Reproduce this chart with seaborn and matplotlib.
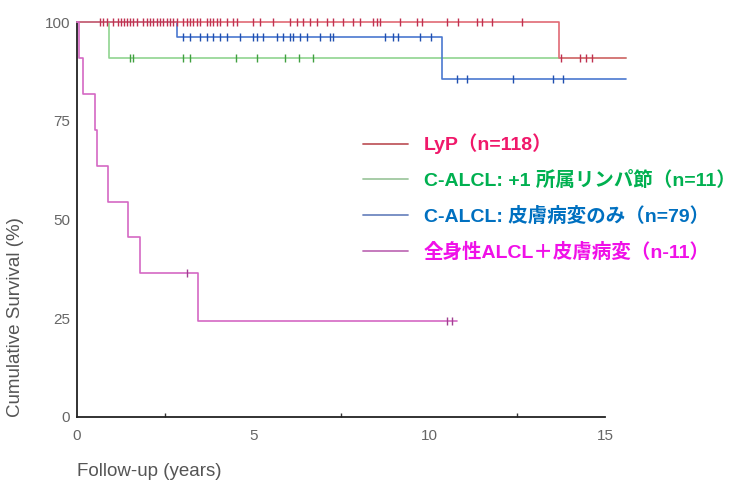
import numpy as np
import matplotlib
matplotlib.use("Agg")
import matplotlib.pyplot as plt
from matplotlib.lines import Line2D
import seaborn as sns

# step curves: event times (years) and survival (%) after each event
lyp_t = [0, 13.68, 15.6]
lyp_s = [100, 90.9, 90.9]
node_t = [0, 0.91, 15.6]
node_s = [100, 90.9, 90.9]
skin_t = [0, 2.84, 10.37, 15.6]
skin_s = [100, 96.2, 85.5, 85.5]
sys_t = [0, 0.05, 0.17, 0.52, 0.57, 0.88, 1.45, 1.79, 3.44, 10.8]
sys_s = [100, 90.9, 81.8, 72.7, 63.6, 54.5, 45.5, 36.4, 24.2, 24.2]

# censored observations (years)
lyp_cens = [0.65, 0.74, 0.85, 1.02, 1.16, 1.25, 1.34, 1.42, 1.51, 1.59, 1.70, 1.88,
            1.99, 2.07, 2.16, 2.27, 2.36, 2.44, 2.56, 2.64, 2.73, 2.84, 3.01, 3.13,
            3.21, 3.30, 3.41, 3.49, 3.69, 3.78, 3.86, 3.98, 4.06, 4.26, 4.43, 4.55,
            5.0, 5.2, 5.57, 6.05, 6.25, 6.42, 6.62, 6.82, 7.10, 7.27, 7.56, 7.84,
            8.04, 8.41, 8.52, 8.61, 9.18, 9.66, 9.8, 10.51, 10.82, 11.36, 11.51,
            11.79, 12.64, 13.75, 14.29, 14.45, 14.63]
node_cens = [1.5, 1.6, 3.0, 3.2, 4.5, 5.1, 5.9, 6.3, 6.7]
skin_cens = [3.01, 3.21, 3.49, 3.69, 3.86, 4.06, 4.26, 4.63, 5.0, 5.11, 5.28, 5.68,
             5.85, 6.05, 6.14, 6.34, 6.53, 6.9, 7.19, 7.27, 8.75, 8.98, 9.12, 9.74,
             10.06, 10.8, 11.08, 12.39, 13.52, 13.8]
sys_cens = [3.13, 10.51, 10.65]

labels = ["LyP（n=118）", "C-ALCL: +1 所属リンパ節（n=11）",
          "C-ALCL: 皮膚病変のみ（n=79）", "全身性ALCL＋皮膚病変（n-11）"]
line_cols = ["#e06a74", "#90d490", "#4a78d0", "#d468c4"]
mark_cols = ["#c03050", "#40a040", "#2050b0", "#a04090"]
text_cols = ["#f0186a", "#00b050", "#0070c0", "#f010e8"]
legend_cols = ["#c05a60", "#a0c8a0", "#7088c0", "#c070b8"]

sns.set_style("white")
plt.rcParams['font.family'] = ['Liberation Sans', 'Noto Sans CJK JP', 'DejaVu Sans']

fig = plt.figure(figsize=(7.41, 4.84), dpi=100)
ax = fig.add_axes([77 / 741, 67 / 484, (630 - 77) / 741, (417 - 22) / 484])

curves = [(lyp_t, lyp_s, lyp_cens), (node_t, node_s, node_cens),
          (skin_t, skin_s, skin_cens), (sys_t, sys_s, sys_cens)]
order = [1, 2, 0, 3]
for i in order:
    t, s, c = curves[i]
    sns.lineplot(x=t, y=s, ax=ax, drawstyle="steps-post", color=line_cols[i],
                 lw=1.2, estimator=None, clip_on=False, zorder=3)
    idx = np.searchsorted(t, c, side="right") - 1
    cy = np.array(s)[idx]
    ax.plot(c, cy, linestyle="none", marker="|", ms=6, mew=1.0,
            color=mark_cols[i], clip_on=False, zorder=4)

ax.set_xlim(0, 15.7)
ax.set_ylim(0, 100)
for side in ["top", "right"]:
    ax.spines[side].set_visible(False)
ax.spines["left"].set_bounds(0, 100)
ax.spines["bottom"].set_bounds(0, 15)
for side in ["left", "bottom"]:
    ax.spines[side].set_linewidth(1.3)
    ax.spines[side].set_color("#222222")

ax.set_xticks([0, 5, 10, 15])
ax.set_xticks([2.5, 7.5, 12.5], minor=True)
ax.set_yticks([0, 25, 50, 75, 100])
ax.tick_params(axis="both", which="major", length=3, width=2.5, color="#111111",
               labelsize=11, labelcolor="#666666", direction="out")
ax.tick_params(axis="y", which="major", pad=2)
ax.tick_params(axis="x", which="major", pad=6)
ax.tick_params(axis="x", which="minor", length=3, width=1, color="#333333",
               direction="in", bottom=True)

ax.set_ylabel("Cumulative Survival (%)", fontsize=13.5, color="#555555")
ax.yaxis.set_label_coords(-0.095, 0.253)
fig.text(77 / 741, 1 - 472 / 484, "Follow-up (years)", fontsize=13.5,
         color="#555555", ha="left", va="center")

handles = [Line2D([0], [0], color=legend_cols[i], lw=1.3) for i in range(4)]
leg = fig.legend(handles, labels, loc="upper left",
                 bbox_to_anchor=(355 / 741, 1 - 126 / 484), frameon=False,
                 prop={"size": 14.0, "weight": "bold"}, handlelength=2.3,
                 handletextpad=0.85, labelspacing=0.86, borderaxespad=0)
for txt, col in zip(leg.get_texts(), text_cols):
    txt.set_color(col)

fig.savefig("out.png", dpi=100)
